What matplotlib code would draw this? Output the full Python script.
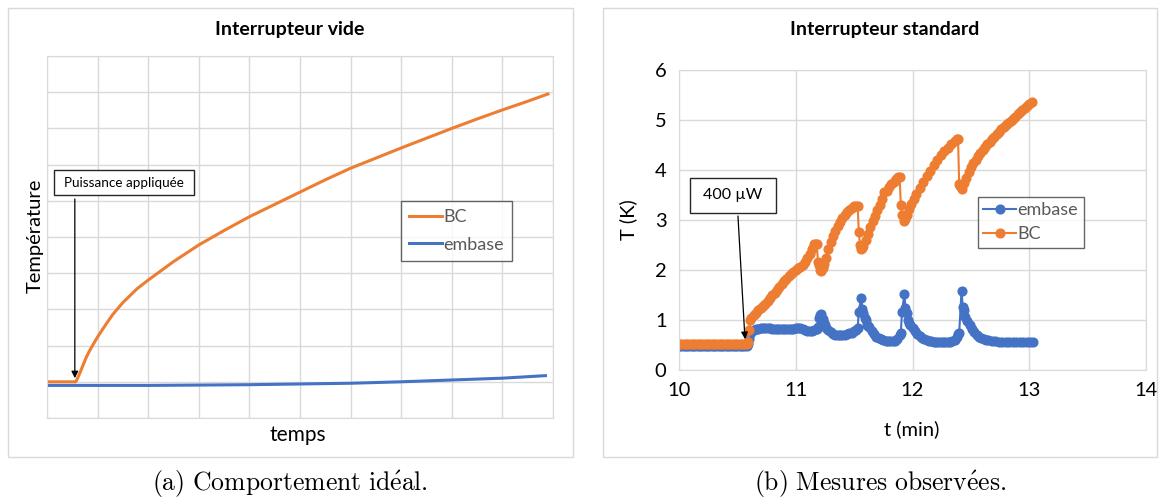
import matplotlib
matplotlib.use("Agg")
import matplotlib.pyplot as plt
from matplotlib.patches import Rectangle

plt.rcParams['font.family'] = ['Lato', 'DejaVu Sans']
plt.rcParams['mathtext.fontset'] = 'cm'

ORANGE = '#ED7D31'
BLUE = '#4472C4'
GRID = '#d9d9d9'

# (a) ideal behaviour, arbitrary units
ideal_t = [0, 0.57, 0.62, 0.66, 0.715, 0.78, 0.85, 0.92, 1.0, 1.08, 1.18, 1.3, 1.5, 1.78,
           2.0, 2.5, 3.0, 3.5, 4.0, 4.5, 5.0, 5.5, 6.0, 6.5, 7.0, 7.5, 8.0, 8.5, 9.0, 9.5, 9.9]
ideal_bc = [1.0, 1.0, 1.15, 1.28, 1.47, 1.69, 1.88, 2.05, 2.24, 2.41, 2.62, 2.86, 3.19, 3.57,
            3.81, 4.32, 4.78, 5.18, 5.56, 5.90, 6.24, 6.58, 6.90, 7.18, 7.46, 7.73, 8.0, 8.26,
            8.51, 8.75, 8.95]
ideal_base_t = [0, 1, 2, 3, 4, 5, 6, 7, 8, 9, 9.85]
ideal_base = [0.90, 0.90, 0.90, 0.91, 0.92, 0.94, 0.96, 1.00, 1.05, 1.10, 1.17]

# (b) measurements, t in min, T in K
emb_t = [10.00, 10.02, 10.04, 10.06, 10.08, 10.10, 10.12, 10.14, 10.16, 10.18,
         10.20, 10.22, 10.24, 10.26, 10.28, 10.30, 10.32, 10.34, 10.36, 10.38,
         10.40, 10.42, 10.44, 10.46, 10.48, 10.50, 10.52, 10.54, 10.56, 10.58,
         10.59, 10.60, 10.61, 10.62, 10.64, 10.66, 10.68, 10.70, 10.72, 10.74,
         10.76, 10.78, 10.80, 10.82, 10.84, 10.86, 10.88, 10.90, 10.92, 10.94,
         10.96, 10.98, 11.00, 11.02, 11.04, 11.06, 11.08, 11.10, 11.12, 11.14,
         11.16, 11.18, 11.19, 11.20, 11.21, 11.22, 11.23, 11.24, 11.25, 11.26,
         11.28, 11.30, 11.32, 11.34, 11.36, 11.38, 11.40, 11.42, 11.44, 11.46,
         11.48, 11.50, 11.52, 11.53, 11.54, 11.56, 11.57, 11.58, 11.59, 11.60,
         11.61, 11.62, 11.63, 11.65, 11.67, 11.69, 11.71, 11.73, 11.75, 11.77,
         11.79, 11.81, 11.83, 11.85, 11.87, 11.89, 11.90, 11.91, 11.93, 11.94,
         11.95, 11.96, 11.97, 11.98, 12.00, 12.02, 12.04, 12.06, 12.08, 12.10,
         12.12, 12.14, 12.16, 12.18, 12.20, 12.22, 12.24, 12.26, 12.28, 12.30,
         12.32, 12.34, 12.36, 12.38, 12.39, 12.40, 12.42, 12.43, 12.44, 12.45,
         12.47, 12.49, 12.51, 12.53, 12.55, 12.57, 12.59, 12.61, 12.63, 12.65,
         12.68, 12.71, 12.74, 12.77, 12.80, 12.83, 12.86, 12.89, 12.92, 12.95,
         12.98, 13.01, 13.03]
emb_T = [0.49, 0.49, 0.49, 0.49, 0.49, 0.49, 0.49, 0.49, 0.49, 0.49,
         0.49, 0.49, 0.49, 0.49, 0.49, 0.49, 0.49, 0.49, 0.49, 0.49,
         0.49, 0.49, 0.49, 0.49, 0.49, 0.49, 0.49, 0.49, 0.49, 0.49,
         0.52, 0.62, 0.72, 0.77, 0.80, 0.82, 0.83, 0.84, 0.84, 0.84,
         0.84, 0.84, 0.83, 0.83, 0.82, 0.82, 0.82, 0.82, 0.82, 0.82,
         0.83, 0.83, 0.84, 0.84, 0.84, 0.83, 0.81, 0.79, 0.78, 0.78,
         0.80, 0.82, 0.86, 1.05, 1.10, 1.12, 1.02, 0.95, 0.90, 0.85,
         0.80, 0.76, 0.73, 0.71, 0.70, 0.70, 0.70, 0.71, 0.72, 0.74,
         0.75, 0.78, 0.81, 0.84, 1.17, 1.45, 1.22, 1.15, 1.05, 1.00,
         0.90, 0.88, 0.87, 0.78, 0.72, 0.67, 0.64, 0.62, 0.60, 0.59,
         0.58, 0.58, 0.58, 0.59, 0.62, 0.70, 0.75, 1.16, 1.52, 1.25,
         1.15, 1.00, 0.95, 0.90, 0.84, 0.78, 0.73, 0.69, 0.65, 0.62,
         0.60, 0.59, 0.58, 0.57, 0.57, 0.56, 0.56, 0.56, 0.56, 0.56,
         0.57, 0.58, 0.60, 0.66, 0.72, 0.75, 1.59, 1.27, 1.20, 1.07,
         0.98, 0.90, 0.82, 0.76, 0.71, 0.67, 0.64, 0.62, 0.61, 0.60,
         0.59, 0.58, 0.57, 0.57, 0.56, 0.56, 0.56, 0.57, 0.57, 0.57,
         0.57, 0.57, 0.57]

bc_t = [10.00, 10.02, 10.04, 10.06, 10.08, 10.10, 10.12, 10.14, 10.16, 10.18,
        10.20, 10.22, 10.24, 10.26, 10.28, 10.30, 10.32, 10.34, 10.36, 10.38,
        10.40, 10.42, 10.44, 10.46, 10.48, 10.50, 10.52, 10.54, 10.56, 10.58,
        10.59, 10.60, 10.61, 10.62, 10.64, 10.66, 10.68, 10.70, 10.72, 10.74,
        10.76, 10.78, 10.80, 10.82, 10.84, 10.86, 10.88, 10.90, 10.92, 10.94,
        10.96, 10.98, 11.00, 11.02, 11.04, 11.06, 11.08, 11.10, 11.12, 11.14,
        11.16, 11.17, 11.18, 11.19, 11.20, 11.21, 11.22, 11.23, 11.24, 11.26,
        11.28, 11.30, 11.32, 11.34, 11.36, 11.38, 11.40, 11.42, 11.44, 11.46,
        11.48, 11.50, 11.52, 11.53, 11.54, 11.55, 11.56, 11.57, 11.58, 11.60,
        11.62, 11.64, 11.66, 11.68, 11.70, 11.72, 11.74, 11.76, 11.78, 11.80,
        11.82, 11.84, 11.86, 11.88, 11.89, 11.90, 11.91, 11.93, 11.94, 11.95,
        11.97, 11.99, 12.01, 12.03, 12.06, 12.09, 12.12, 12.15, 12.18, 12.21,
        12.24, 12.27, 12.30, 12.33, 12.36, 12.38, 12.39, 12.40, 12.41, 12.42,
        12.44, 12.46, 12.48, 12.50, 12.52, 12.54, 12.56, 12.58, 12.60, 12.62,
        12.64, 12.66, 12.68, 12.70, 12.72, 12.74, 12.76, 12.78, 12.80, 12.82,
        12.84, 12.86, 12.88, 12.90, 12.92, 12.94, 12.96, 12.98, 13.00, 13.02]
bc_T = [0.52, 0.52, 0.52, 0.52, 0.52, 0.52, 0.52, 0.52, 0.52, 0.52,
        0.52, 0.52, 0.52, 0.52, 0.52, 0.53, 0.53, 0.53, 0.53, 0.53,
        0.53, 0.53, 0.53, 0.53, 0.53, 0.53, 0.53, 0.53, 0.53, 0.53,
        0.57, 0.80, 1.00, 1.05, 1.10, 1.15, 1.20, 1.24, 1.28, 1.33,
        1.38, 1.44, 1.50, 1.55, 1.60, 1.66, 1.72, 1.78, 1.83, 1.88,
        1.92, 1.96, 2.00, 2.04, 2.07, 2.10, 2.17, 2.25, 2.33, 2.43,
        2.52, 2.53, 2.52, 2.17, 2.10, 2.00, 1.98, 2.05, 2.12, 2.25,
        2.42, 2.56, 2.68, 2.78, 2.88, 2.97, 3.04, 3.11, 3.16, 3.21,
        3.25, 3.28, 3.29, 3.29, 2.77, 2.50, 2.42, 2.44, 2.48, 2.60,
        2.73, 2.86, 2.98, 3.09, 3.20, 3.31, 3.42, 3.56, 3.58, 3.66,
        3.72, 3.77, 3.82, 3.86, 3.87, 3.30, 3.10, 2.98, 3.02, 3.10,
        3.22, 3.32, 3.42, 3.52, 3.65, 3.77, 3.88, 3.99, 4.10, 4.20,
        4.30, 4.38, 4.45, 4.52, 4.58, 4.62, 4.61, 3.72, 3.68, 3.62,
        3.75, 3.85, 3.96, 4.06, 4.14, 4.21, 4.28, 4.34, 4.40, 4.46,
        4.52, 4.57, 4.62, 4.67, 4.72, 4.77, 4.82, 4.86, 4.90, 4.94,
        4.98, 5.03, 5.07, 5.12, 5.16, 5.20, 5.25, 5.29, 5.33, 5.37]

W, H = 1159, 499
fig = plt.figure(figsize=(W / 100, H / 100), dpi=100)


def fig_rect(x0, y0, x1, y1):
    # pixel box (top-left origin) -> figure fraction [l, b, w, h]
    return [x0 / W, 1 - y1 / H, (x1 - x0) / W, (y1 - y0) / H]


def fig_text(x, y, s, **kw):
    fig.text(x / W, 1 - y / H, s, ha='center', va='center', **kw)


# panel frames
for x0, x1 in [(8, 573), (603, 1157)]:
    l, b, w, h = fig_rect(x0, 8, x1, 457)
    fig.patches.append(Rectangle((l, b), w, h, transform=fig.transFigure,
                                 fill=False, edgecolor=GRID, linewidth=1))


def style_axes(ax):
    ax.grid(True, color=GRID, linewidth=1)
    ax.set_axisbelow(True)
    for s in ax.spines.values():
        s.set_color(GRID)


def style_legend(leg):
    leg.get_frame().set_edgecolor('#404040')
    leg.get_frame().set_linewidth(1)
    for t in leg.get_texts():
        t.set_color('#595959')


# ---- (a)
ax1 = fig.add_axes(fig_rect(47, 56, 553, 418))
ax1.plot(ideal_t, ideal_bc, color=ORANGE, lw=2.2, label='BC')
ax1.plot(ideal_base_t, ideal_base, color=BLUE, lw=2.2, label='embase')
ax1.set_xlim(0, 10)
ax1.set_ylim(0, 10)
ax1.set_xticks(range(11))
ax1.set_yticks(range(11))
ax1.tick_params(length=0, labelbottom=False, labelleft=False)
style_axes(ax1)
fig_text(290, 30, 'Interrupteur vide', fontsize=14, fontweight='bold')
fig_text(298, 435, 'temps', fontsize=15)
fig_text(35, 236, 'Température', fontsize=14.5, rotation=90)

ax1.add_patch(Rectangle((0.14, 6.16), 2.76, 0.69, facecolor='white',
                        edgecolor='#262626', lw=1, zorder=5))
ax1.text(1.52, 6.49, 'Puissance appliquée', fontsize=9.7, ha='center', va='center', zorder=6)
ax1.annotate('', xy=(0.55, 1.1), xytext=(0.55, 6.05),
             arrowprops=dict(arrowstyle='-|>', color='black', lw=0.9,
                             mutation_scale=10, shrinkA=0, shrinkB=0), zorder=6)

leg1 = ax1.legend(loc='upper left', bbox_to_anchor=(0.70, 0.60), fontsize=13,
                  frameon=True, fancybox=False, handlelength=1.8, handletextpad=0.1,
                  borderpad=0.45, labelspacing=0.65, borderaxespad=0)
style_legend(leg1)

# ---- (b)
ax2 = fig.add_axes(fig_rect(679, 70, 1146, 370))
ax2.plot(emb_t, emb_T, color=BLUE, lw=1.5, marker='o', ms=6.3, label='embase')
ax2.plot(bc_t, bc_T, color=ORANGE, lw=1.5, marker='o', ms=6.3, label='BC')
ax2.set_xlim(10, 14)
ax2.set_ylim(0, 6)
ax2.set_xticks([10, 11, 12, 13, 14])
ax2.set_yticks(range(7))
ax2.tick_params(length=0, labelsize=14.5, pad=9)
style_axes(ax2)
fig_text(885, 30, 'Interrupteur standard', fontsize=14, fontweight='bold')
fig_text(912, 429, 't (min)', fontsize=14.5)
fig_text(628, 220, 'T (K)', fontsize=14.5, rotation=90)

ax2.add_patch(Rectangle((10.09, 3.14), 0.74, 0.70, facecolor='white',
                        edgecolor='#262626', lw=1, zorder=5))
ax2.text(10.46, 3.49, '400 µW', fontsize=11.5, ha='center', va='center', zorder=6)
ax2.annotate('', xy=(10.565, 0.62), xytext=(10.505, 3.08),
             arrowprops=dict(arrowstyle='-|>', color='black', lw=0.9,
                             mutation_scale=10, shrinkA=0, shrinkB=0), zorder=6)

leg2 = ax2.legend(loc='upper left', bbox_to_anchor=(0.64, 0.577), fontsize=13,
                  frameon=True, fancybox=False, handlelength=1.8, handletextpad=0.1,
                  borderpad=0.3, labelspacing=0.45, borderaxespad=0)
style_legend(leg2)

# captions
fig_text(290, 484, r'$\mathrm{(a)\ Comportement\ id\acute{e}al.}$', fontsize=18.5)
fig_text(880, 484, r'$\mathrm{(b)\ Mesures\ observ\acute{e}es.}$', fontsize=18.5)

fig.savefig('out.png', dpi=100)
